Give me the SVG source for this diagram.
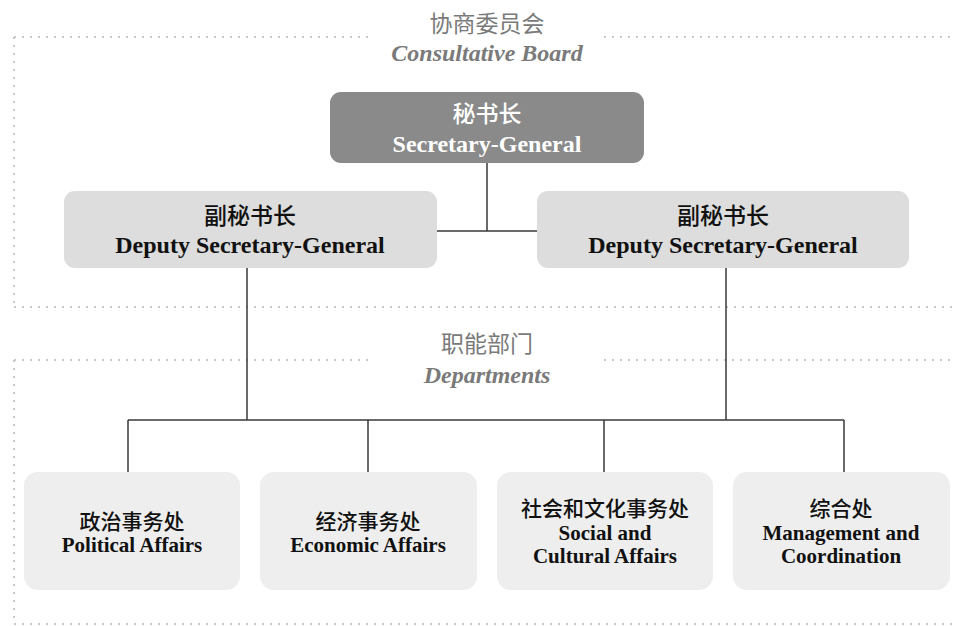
<svg xmlns="http://www.w3.org/2000/svg" width="954" height="626" viewBox="0 0 954 626">
<style>
.dot{stroke:#c9c9c9;stroke-width:2;stroke-dasharray:2 6;fill:none}
.conn{stroke:#3a3a3a;stroke-width:1.5;fill:none}
.hdrc{font-family:"Noto Sans CJK SC",sans-serif;font-size:23px;fill:#7a7a7a;text-anchor:middle}
.hdre{font-family:"Liberation Serif","DejaVu Serif",serif;font-size:24px;font-style:italic;font-weight:bold;fill:#7a7a7a;text-anchor:middle}
.cn{font-family:"Noto Sans CJK SC",sans-serif;font-size:23px;font-weight:500;text-anchor:middle}
.en{font-family:"Liberation Serif","DejaVu Serif",serif;font-size:24px;font-weight:bold;text-anchor:middle}
.cns{font-family:"Noto Sans CJK SC",sans-serif;font-size:21px;font-weight:500;text-anchor:middle;fill:#111}
.ens{font-family:"Liberation Serif","DejaVu Serif",serif;font-size:21px;font-weight:bold;text-anchor:middle;fill:#111}
.dep{fill:#dcdddc}
.dept{fill:#eeeeee}
</style>
<rect width="954" height="626" fill="#ffffff"/>
<g id="frame">
<path class="dot" d="M14 37H372M604 37H954M14 37V305M14 307H954"/>
<path class="dot" d="M14 360H372M604 360H954M14 360V622M14 624H954"/>
</g>
<g id="header-board">
<text class="hdrc" x="487" y="32">协商委员会</text>
<text class="hdre" x="487" y="61">Consultative Board</text>
</g>
<g id="header-departments">
<text class="hdrc" x="487" y="352">职能部门</text>
<text class="hdre" x="487" y="383">Departments</text>
</g>
<g id="connectors">
<path class="conn" d="M487 163V231M437 231H537"/>
<path class="conn" d="M247 268V420M726 268V420M128 420H844"/>
<path class="conn" d="M128 420V472M368 420V472M604 420V472M844 420V472"/>
</g>
<g id="secretary-general">
<rect x="330" y="92" width="314" height="71" rx="11" fill="#8a8a8a"/>
<text class="cn" x="487" y="122" fill="#ffffff">秘书长</text>
<text class="en" x="487" y="152" fill="#ffffff">Secretary-General</text>
</g>
<g id="deputy-left">
<rect class="dep" x="64" y="191" width="373" height="77" rx="11"/>
<text class="cn" x="250" y="224" fill="#111">副秘书长</text>
<text class="en" x="250" y="253" fill="#111">Deputy Secretary-General</text>
</g>
<g id="deputy-right">
<rect class="dep" x="537" y="191" width="372" height="77" rx="11"/>
<text class="cn" x="723" y="224" fill="#111">副秘书长</text>
<text class="en" x="723" y="253" fill="#111">Deputy Secretary-General</text>
</g>
<g id="dept-political">
<rect class="dept" x="24" y="472" width="216" height="118" rx="14"/>
<text class="cns" x="132" y="529">政治事务处</text>
<text class="ens" x="132" y="552">Political Affairs</text>
</g>
<g id="dept-economic">
<rect class="dept" x="260" y="472" width="217" height="118" rx="14"/>
<text class="cns" x="368" y="529">经济事务处</text>
<text class="ens" x="368" y="552">Economic Affairs</text>
</g>
<g id="dept-social">
<rect class="dept" x="497" y="472" width="216" height="118" rx="14"/>
<text class="cns" x="605" y="516">社会和文化事务处</text>
<text class="ens" x="605" y="540">Social and</text>
<text class="ens" x="605" y="563">Cultural Affairs</text>
</g>
<g id="dept-management">
<rect class="dept" x="733" y="472" width="217" height="118" rx="14"/>
<text class="cns" x="841" y="516">综合处</text>
<text class="ens" x="841" y="540">Management and</text>
<text class="ens" x="841" y="563">Coordination</text>
</g>
</svg>
